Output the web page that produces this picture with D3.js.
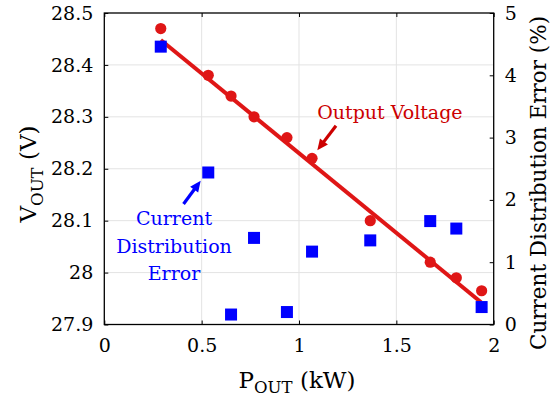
<!DOCTYPE html>
<html><head><meta charset="utf-8">
<script src="https://cdn.jsdelivr.net/npm/d3@7"></script>
<style>body{margin:0;background:#fff;} svg{display:block;}</style>
</head><body>
<svg id="chart" width="554" height="397"></svg>
<script>
// ---- data ----
const powerKW   = [0.29, 0.534, 0.651, 0.769, 0.938, 1.067, 1.366, 1.674, 1.808, 1.938];
const voltageV  = [28.47, 28.38, 28.34, 28.30, 28.26, 28.22, 28.10, 28.02, 27.99, 27.965];
const errorPct  = [4.46, 2.44, 0.16, 1.39, 0.20, 1.17, 1.35, 1.66, 1.54, 0.28];
const fitPower  = [0.29, 1.935];
const fitVolt   = [28.448, 27.943];
const xTicks    = [0, 0.5, 1, 1.5, 2];
const yLeftTicks  = [27.9, 28, 28.1, 28.2, 28.3, 28.4, 28.5];
const yRightTicks = [0, 1, 2, 3, 4, 5];
const voltLabel = "Output Voltage";
const errLabelLines = ["Current", "Distribution", "Error"];

// ---- layout ----
const W = 554, H = 397;
const m = {left: 104.3, right: 493.7, top: 13, bottom: 324.5};
const FONT = "'DejaVu Serif', serif";
const RED = "#df1616", BLUE = "#0000ff";

const x = d3.scaleLinear().domain([0, 2]).range([m.left, m.right]);
const yL = d3.scaleLinear().domain([27.9, 28.5]).range([m.bottom, m.top]);
const yR = d3.scaleLinear().domain([0, 5]).range([m.bottom, m.top]);

const svg = d3.select("#chart");

// grid
const grid = svg.append("g").attr("stroke", "#e3e3e3").attr("stroke-width", 1);
grid.selectAll("line.v").data(xTicks.slice(1, -1)).join("line")
  .attr("x1", d => x(d)).attr("x2", d => x(d)).attr("y1", m.top).attr("y2", m.bottom);
grid.selectAll("line.h").data(yLeftTicks.slice(1, -1)).join("line")
  .attr("x1", m.left).attr("x2", m.right).attr("y1", d => yL(d)).attr("y2", d => yL(d));

// axes
const fmt = d => String(+d.toFixed(1));
const tickStyle = g => {
  g.select(".domain").remove();
  g.selectAll("line").attr("stroke", "#000");
  g.selectAll("text").attr("font-family", FONT).attr("font-size", 19).attr("fill", "#000");
};
svg.append("g").attr("transform", `translate(0,${m.bottom})`)
  .call(d3.axisBottom(x).tickValues(xTicks).tickFormat(fmt).tickSizeInner(-4).tickPadding(14))
  .call(tickStyle);
svg.append("g").attr("transform", `translate(0,${m.top})`)
  .call(d3.axisTop(x).tickValues(xTicks).tickFormat("").tickSizeInner(-4))
  .call(tickStyle);
svg.append("g").attr("transform", `translate(${m.left},0)`)
  .call(d3.axisLeft(yL).tickValues(yLeftTicks).tickFormat(fmt).tickSizeInner(-4).tickPadding(11))
  .call(tickStyle);
svg.append("g").attr("transform", `translate(${m.right},0)`)
  .call(d3.axisRight(yR).tickValues(yRightTicks).tickFormat(fmt).tickSizeInner(-4).tickPadding(11))
  .call(tickStyle);

// box
svg.append("rect").attr("x", m.left).attr("y", m.top)
  .attr("width", m.right - m.left).attr("height", m.bottom - m.top)
  .attr("fill", "none").attr("stroke", "#000").attr("stroke-width", 1.3);

// fit line
svg.append("path")
  .datum(fitPower.map((p, i) => [p, fitVolt[i]]))
  .attr("d", d3.line().x(d => x(d[0])).y(d => yL(d[1])))
  .attr("stroke", RED).attr("stroke-width", 4).attr("fill", "none");

// voltage markers
svg.append("g").selectAll("circle").data(powerKW).join("circle")
  .attr("cx", d => x(d)).attr("cy", (d, i) => yL(voltageV[i]))
  .attr("r", 5.6).attr("fill", RED);

// error markers
const S = 12;
svg.append("g").selectAll("rect").data(powerKW).join("rect")
  .attr("x", d => x(d) - S / 2).attr("y", (d, i) => yR(errorPct[i]) - S / 2)
  .attr("width", S).attr("height", S).attr("fill", BLUE);

// arrows
function arrow(x1, y1, x2, y2, color) {
  const dx = x2 - x1, dy = y2 - y1, L = Math.hypot(dx, dy);
  const ux = dx / L, uy = dy / L, hl = 11, hw = 5;
  const bx = x2 - ux * hl, by = y2 - uy * hl;
  svg.append("line").attr("x1", x1).attr("y1", y1).attr("x2", bx + ux * 2).attr("y2", by + uy * 2)
    .attr("stroke", color).attr("stroke-width", 3.2);
  svg.append("path")
    .attr("d", `M${x2},${y2}L${bx - uy * hw},${by + ux * hw}L${bx + uy * hw},${by - ux * hw}Z`)
    .attr("fill", color);
}
arrow(x(1.19), yL(28.283), x(1.094), yL(28.2356), "#cc0000");
arrow(x(0.407), yR(1.934), x(0.495), yR(2.307), BLUE);

// annotation text
svg.append("text").attr("x", x(1.467)).attr("y", yL(28.295))
  .attr("text-anchor", "middle").attr("font-family", FONT).attr("font-size", 19)
  .attr("fill", "#cc0000").text(voltLabel);
svg.append("g").selectAll("text").data(errLabelLines).join("text")
  .attr("x", x(0.358)).attr("y", (d, i) => 225 + i * 27.5)
  .attr("text-anchor", "middle").attr("font-family", FONT).attr("font-size", 19)
  .attr("fill", BLUE).text(d => d);

// axis labels
function subLabel(g, main, sub, rest, fs, shift) {
  const t = g.append("text").attr("text-anchor", "middle").attr("font-family", FONT)
    .attr("font-size", fs).attr("fill", "#000");
  t.append("tspan").text(main);
  t.append("tspan").attr("font-size", fs * 0.72).attr("dy", shift).text(sub);
  t.append("tspan").attr("dy", -shift).text(rest);
  return t;
}
subLabel(svg.append("g").attr("transform", `translate(36,174) rotate(-90)`), "V", "OUT", " (V)", 23, 7);
subLabel(svg.append("g").attr("transform", `translate(297,388)`), "P", "OUT", " (kW)", 23, 5);
svg.append("text").attr("transform", `translate(546,183) rotate(-90)`)
  .attr("text-anchor", "middle").attr("font-family", FONT).attr("font-size", 21.5)
  .attr("fill", "#000").text("Current Distribution Error (%)");
</script>
</body></html>
